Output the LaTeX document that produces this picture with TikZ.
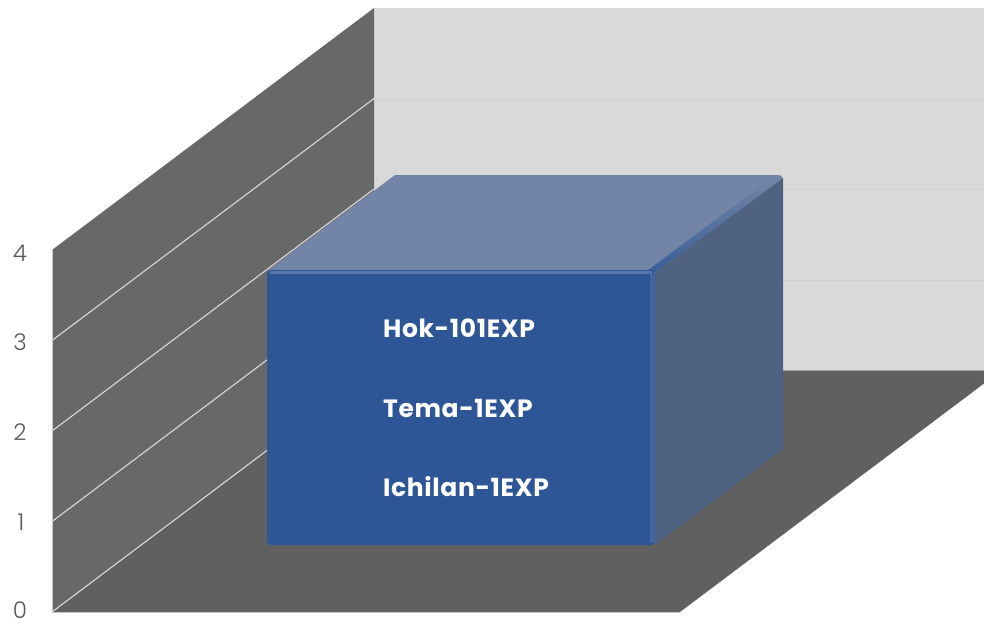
\documentclass[tikz,border=0pt]{standalone}
\usepackage{fontspec}
\setmainfont{Poppins}
\newfontfamily\axisfont{Poppins Light}
\newfontfamily\barfont[LetterSpace=2.5]{Poppins Bold}
\definecolor{wallL}{HTML}{686868}
\definecolor{floorC}{HTML}{606060}
\definecolor{wallB}{HTML}{D9D9D9}
\definecolor{gridC}{HTML}{D9D9D9}
\definecolor{barFront}{HTML}{2E5596}
\definecolor{barTop}{HTML}{7285A6}
\definecolor{barSide}{HTML}{506282}
\definecolor{axisTxt}{HTML}{595959}
\tikzset{
  axislabel/.style={font=\axisfont\fontsize{23}{23}\selectfont, text=axisTxt, anchor=center, inner sep=0pt},
  barlabel/.style={font=\barfont\fontsize{25}{25}\selectfont, text=white, anchor=base west, inner sep=0pt},
  gridline/.style={draw=gridC, line width=1.1pt},
}
\begin{document}
\begin{tikzpicture}[x=1pt,y=-1pt]
\useasboundingbox (0,0) rectangle (984,626);
\clip (0,0) rectangle (984,626);
% back wall
\fill[wallB] (374,8) rectangle (990,370);
\foreach \yy in {99,189,280} \draw[draw=black!4!wallB, line width=0.8pt] (374,\yy) -- (990,\yy);
% floor
\fill[floorC] (52,612) -- (680,612) -- (1002,370) -- (374,370) -- cycle;
\draw[draw=black!25!wallB, line width=1pt] (374,370.5) -- (1000,370.5);
% left wall
\fill[wallL] (52,612) -- (374,370) -- (374,8) -- (52,250) -- cycle;
\foreach \k in {0,1,2,3} \draw[gridline] (52,{612-90.5*\k}) -- (374,{370-90.5*\k});
\draw[draw=gridC!80!gray, line width=1pt] (52,250) -- (52,612.5) -- (680,612.5);
% axis labels
\node[axislabel] (l4) at (20,253) {4};
\node[axislabel] (l3) at (20,342) {3};
\node[axislabel] (l2) at (20,432) {2};
\node[axislabel] (l1) at (21,522) {1};
\node[axislabel] (l0) at (20,610) {0};
% bar
\fill[barTop] (267,271) -- (395,175) -- (779,175) to[out=0,in=45] (782,181) -- (655,272) -- cycle;
\fill[barSide] (655,272) -- (783,178) -- (783,449) -- (655,545) -- cycle;
\shade[left color=barTop, right color=barFront!85!barTop, shading angle=0] (640,276) -- (765,183) -- (783,178) -- (655,272) -- cycle;
\fill[barFront, rounded corners=4pt] (267,545) -- (267,270) -- (655,270) -- (655,545) -- cycle;
\fill[barFront!80!white!95!barFront] (270,271) rectangle (652,274);
\fill[barFront!90!white] (650,274) rectangle (655,543);
% labels
\node[barlabel] (t1) at (383,337) {Hok-101EXP};
\node[barlabel] (t2) at (383,417) {Tema-1EXP};
\node[barlabel] (t3) at (383,496) {Ichilan-1EXP};
\end{tikzpicture}
\end{document}
